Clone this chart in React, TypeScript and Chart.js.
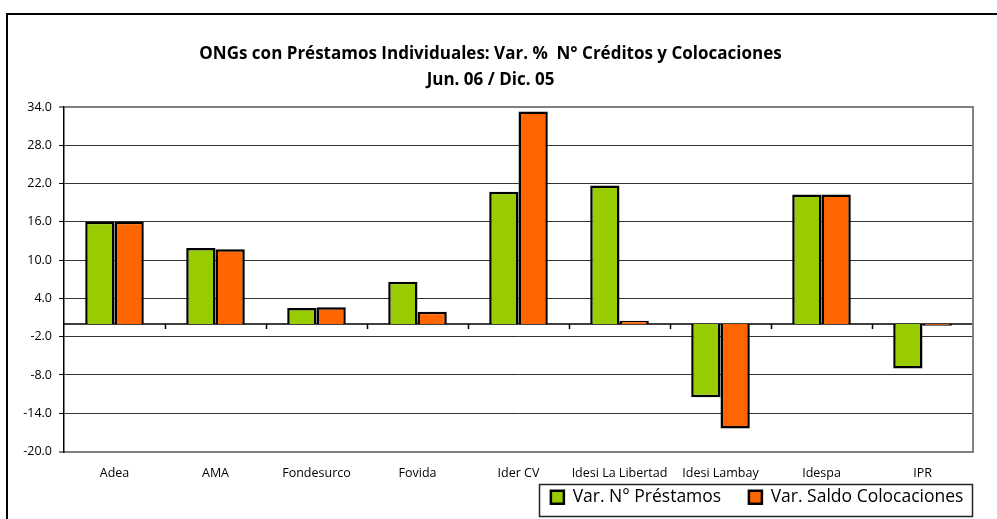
import React, { useEffect, useRef } from "react";
import { Chart, registerables } from "chart.js";

Chart.register(...registerables);

const categories = ["Adea", "AMA", "Fondesurco", "Fovida", "Ider CV", "Idesi La Libertad", "Idesi Lambay", "Idespa", "IPR"];
const prestamos = [16.0, 11.9, 2.5, 6.6, 20.7, 21.7, -11.5, 20.3, -7.0];
const colocaciones = [16.0, 11.7, 2.6, 1.9, 33.3, 0.5, -16.4, 20.3, -0.3];
const titleLines = ["ONGs con Préstamos Individuales: Var. %  N° Créditos y Colocaciones", "Jun. 06 / Dic. 05"];
const seriesNames = ["Var. N° Préstamos", "Var. Saldo Colocaciones"];
const yMin = -20;
const yMax = 34;
const yStep = 6;

const FONT = "'Open Sans', sans-serif";

const framePlugin = {
  id: "framePlugin",
  beforeDatasetsDraw(chart: any) {
    const { ctx, chartArea } = chart;
    const y = chart.scales.y.getPixelForValue(0);
    const n = categories.length;
    const w = (chartArea.right - chartArea.left) / n;
    ctx.save();
    ctx.strokeStyle = "#000";
    ctx.lineWidth = 1.5;
    ctx.beginPath();
    ctx.moveTo(chartArea.left, y);
    ctx.lineTo(chartArea.right, y);
    for (let i = 1; i < n; i++) {
      const x = Math.round(chartArea.left + i * w) + 0.5;
      ctx.moveTo(x, y);
      ctx.lineTo(x, y + 5);
    }
    ctx.stroke();
    ctx.restore();
  },
  afterDraw(chart: any) {
    const { ctx, chartArea } = chart;
    ctx.save();
    ctx.strokeStyle = "#808080";
    ctx.lineWidth = 2;
    ctx.beginPath();
    ctx.moveTo(chartArea.right, chartArea.top - 1);
    ctx.lineTo(chartArea.right, chartArea.bottom + 1);
    ctx.stroke();
    const lg = chart.legend;
    if (lg && lg.legendHitBoxes && lg.legendHitBoxes.length) {
      const hb = lg.legendHitBoxes;
      let l = Infinity, r = -Infinity;
      hb.forEach((b: any) => {
        l = Math.min(l, b.left);
        r = Math.max(r, b.left + b.width);
      });
      ctx.strokeStyle = "#222";
      ctx.lineWidth = 1.5;
      ctx.strokeRect(Math.round(l - 12) + 0.5, Math.round(lg.top) + 0.5, Math.round(r - l + 16), Math.round(lg.bottom - lg.top) - 1);
    }
    ctx.restore();
  },
};

export default function App() {
  const ref = useRef<HTMLCanvasElement>(null);
  useEffect(() => {
    if (!ref.current) return;
    const chart = new Chart(ref.current, {
      type: "bar",
      data: {
        labels: categories,
        datasets: [
          {
            label: seriesNames[0],
            data: prestamos,
            backgroundColor: "#99CC00",
            borderColor: "#000",
            borderWidth: 2.5,
            categoryPercentage: 0.58,
            barPercentage: 1.0,
          },
          {
            label: seriesNames[1],
            data: colocaciones,
            backgroundColor: "#FF6600",
            borderColor: "#000",
            borderWidth: 2.5,
            categoryPercentage: 0.58,
            barPercentage: 1.0,
          },
        ],
      },
      options: {
        responsive: false,
        animation: false,
        devicePixelRatio: 1,
        layout: { padding: { left: 8, right: 24, top: 40, bottom: 3 } },
        plugins: {
          title: {
            display: true,
            text: titleLines,
            color: "#000",
            font: { family: FONT, size: 17, weight: "bold", lineHeight: 26 / 17 },
            padding: { top: 1, bottom: 14 },
          },
          legend: {
            display: true,
            position: "bottom",
            align: "end",
            labels: {
              color: "#000",
              font: { family: FONT, size: 17.5 },
              boxWidth: 13,
              boxHeight: 13,
              padding: 5,
              generateLabels: (c: any) => {
                const base = Chart.defaults.plugins.legend.labels.generateLabels(c);
                return base.map((it: any, i: number) => ({
                  ...it,
                  text: i < base.length - 1 ? it.text + "     " : it.text + " ",
                }));
              },
            },
          },
          tooltip: { enabled: false },
        },
        scales: {
          x: {
            grid: { display: false },
            border: { display: true, color: "#808080", width: 2 },
            ticks: { color: "#000", font: { family: FONT, size: 12.5 }, padding: 6, maxRotation: 0, autoSkip: false },
            afterFit: (s: any) => { s.height = 32; },
          },
          y: {
            min: yMin,
            max: yMax,
            ticks: {
              stepSize: yStep,
              color: "#000",
              font: { family: FONT, size: 12.5 },
              padding: 7,
              callback: (v: any) => Number(v).toFixed(1),
            },
            grid: {
              color: (c: any) => (c.tick && (c.tick.value === yMax || c.tick.value === yMin) ? "#808080" : "#333"),
              lineWidth: (c: any) => (c.tick && (c.tick.value === yMax || c.tick.value === yMin) ? 2 : 1),
              tickColor: "#000",
              tickWidth: 1,
              tickLength: 5,
              drawTicks: true,
            },
            border: { display: true, color: "#000", width: 1.5 },
            afterFit: (s: any) => { s.width = 56; },
          },
        },
      },
      plugins: [framePlugin],
    } as any);
    return () => chart.destroy();
  }, []);
  return (
    <div style={{ position: "fixed", left: 0, top: 0, width: 997, height: 519, overflow: "hidden", background: "#fff" }}>
      <div style={{ position: "absolute", left: 6, top: 13, width: 1100, height: 700, borderTop: "2px solid #000", borderLeft: "2px solid #000" }} />
      <canvas ref={ref} width={997} height={519} style={{ position: "absolute", left: 0, top: 0, width: 997, height: 519 }} />
    </div>
  );
}
